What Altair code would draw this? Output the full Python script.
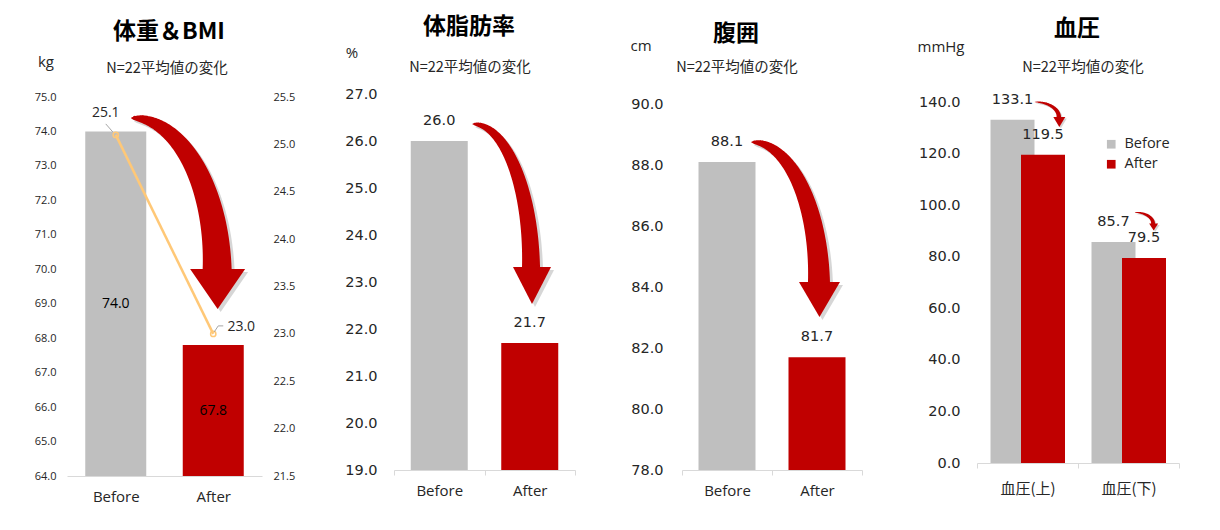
import json
import altair as alt
import numpy as np
import pandas as pd

# ---------------- data ----------------
phases = ["Before", "After"]
weight_kg = [74.0, 67.8]
bmi_values = [25.1, 23.0]
body_fat_pct = [26.0, 21.7]
waist_cm = [88.1, 81.7]
bp_categories = ["血圧(上)", "血圧(下)"]
bp_before = [133.1, 85.7]
bp_after = [119.5, 79.5]

kg_ticks = [64.0, 65.0, 66.0, 67.0, 68.0, 69.0, 70.0, 71.0, 72.0, 73.0, 74.0, 75.0]
bmi_ticks = [21.5, 22.0, 22.5, 23.0, 23.5, 24.0, 24.5, 25.0, 25.5]
fat_ticks = [19.0, 20.0, 21.0, 22.0, 23.0, 24.0, 25.0, 26.0, 27.0]
waist_ticks = [78.0, 80.0, 82.0, 84.0, 86.0, 88.0, 90.0]
bp_ticks = [0.0, 20.0, 40.0, 60.0, 80.0, 100.0, 120.0, 140.0]

titles = ["体重＆BMI", "体脂肪率", "腹囲", "血圧"]
subtitle_text = "N=22平均値の変化"
unit_labels = ["kg", "%", "cm", "mmHg"]

# ---------------- style ----------------
GRAY = "#BFBFBF"
RED = "#C00000"
ORANGE = "#FFC877"
AXIS_GRAY = "#D9D9D9"
TEXT = "#262626"
LATIN = "Open Sans, Noto Sans CJK JP"
CJK = "Noto Sans CJK JP"
NUM = "DejaVu Sans"


def lin(dom):
    return alt.Scale(domain=dom, nice=False, zero=False)


def band(dom):
    return alt.Scale(domain=dom, paddingInner=0, paddingOuter=0)


def ext_dom(ticks, plot_h, extra_px):
    """Axis range from the tick list, with a little empty room above the top tick."""
    span = ticks[-1] - ticks[0]
    return [ticks[0], ticks[-1] + extra_px * span / plot_h]


def xaxis(ticks, pad, font=LATIN):
    return alt.Axis(title=None, labelAngle=0, domainColor=AXIS_GRAY, domainWidth=1,
                    ticks=ticks, tickSize=5 if ticks else 0, tickColor=AXIS_GRAY,
                    tickBand="extent", labelFont=font, labelFontSize=15,
                    labelColor=TEXT, labelPadding=pad, grid=False)


def yaxis(values, pad, size, font, orient="left"):
    return alt.Axis(title=None, values=values, format=".1f", grid=False, domain=False,
                    ticks=False, tickSize=0, labelFont=font, labelFontSize=size,
                    labelColor=TEXT, labelPadding=pad, orient=orient,
                    labelOverlap=False, labelFlush=False)


def header(i, tx, ty, sx, sy, ux, uy):
    df = pd.DataFrame({"title": [titles[i]], "sub": [subtitle_text], "unit": [unit_labels[i]]})
    base = alt.Chart(df)
    return [
        base.mark_text(font=CJK, fontSize=23, fontWeight="bold", color="#000000",
                       align="center", baseline="middle").encode(
            text="title:N", x=alt.value(tx), y=alt.value(ty)),
        base.mark_text(font=CJK, fontSize=14.5, color=TEXT, align="center",
                       baseline="middle").encode(
            text="sub:N", x=alt.value(sx), y=alt.value(sy)),
        base.mark_text(font=LATIN, fontSize=15, color=TEXT, align="center",
                       baseline="middle").encode(
            text="unit:N", x=alt.value(ux), y=alt.value(uy)),
    ]


def arrow(xs, ys, xe, ye, xt, yt, shaft_w, head_w, head_h, xdom, ydom, shadow=3.0):
    """Decorative curved arrow (quarter ellipse shaft + triangular head)."""
    t = np.linspace(0, np.pi / 2, 48)
    frac = t / (np.pi / 2)
    df = pd.DataFrame({
        "ax": xs + (xe - xs) * np.sin(t),
        "ay": ye + (ys - ye) * np.cos(t),
        "w": shaft_w * (0.06 + 0.94 * frac ** 0.6),
        "i": np.arange(len(t)),
    })
    hd = pd.DataFrame({"hx": [(xe + xt) / 2], "hy": [(ye + yt) / 2]})
    a = head_h / head_w
    path = f"M-1,{-a:.3f}L1,{-a:.3f}L0,{a:.3f}Z"
    layers = []
    for col, op, off in [("#000000", 0.16, shadow), (RED, 1.0, 0.0)]:
        layers.append(alt.Chart(df).mark_trail(color=col, opacity=op, xOffset=off, yOffset=off).encode(
            x=alt.X("ax:Q", scale=lin(xdom), axis=None),
            y=alt.Y("ay:Q", scale=lin(ydom), axis=None),
            size=alt.Size("w:Q", scale=None, legend=None),
            order="i:Q"))
        layers.append(alt.Chart(hd).mark_point(shape=path, filled=True, size=head_w ** 2, color=col,
                                               opacity=op, strokeWidth=0, xOffset=off, yOffset=off).encode(
            x=alt.X("hx:Q", scale=lin(xdom), axis=None),
            y=alt.Y("hy:Q", scale=lin(ydom), axis=None)))
    return layers


def spacer(w, h):
    return alt.Chart(pd.DataFrame({"v": [0]})).mark_point(opacity=0).encode(
        x=alt.value(0), y=alt.value(0)).properties(width=w, height=h)


phase_color = alt.Color("phase:N", scale=alt.Scale(domain=phases, range=[GRAY, RED]), legend=None)
xb = alt.X("phase:N", sort=phases, scale=band(phases), axis=None)

# ---------------- panel 1: weight & BMI ----------------
H1, E1 = 379, 3
W1 = 195
kg_dom = ext_dom(kg_ticks, H1, E1)
bmi_dom = ext_dom(bmi_ticks, H1, E1)
df1 = pd.DataFrame({"phase": phases, "kg": weight_kg, "bmi": bmi_values})
pos_expr = f"indexof({json.dumps(phases)}, datum.phase) + 0.5"

bars1 = alt.Chart(df1).mark_bar(width=61).encode(
    x=alt.X("phase:N", sort=phases, scale=band(phases), axis=xaxis(False, 13)),
    y=alt.Y("kg:Q", scale=lin(kg_dom), axis=yaxis(kg_ticks, 11, 11, LATIN)),
    y2=alt.datum(kg_dom[0]),
    color=phase_color)
lab1 = alt.Chart(df1).transform_calculate(mid=f"(datum.kg + {kg_dom[0]}) / 2").mark_text(
    font=LATIN, fontSize=14, color="#000000").encode(
    x=xb, y=alt.Y("mid:Q", scale=lin(kg_dom), axis=None), text=alt.Text("kg:Q", format=".1f"))
line1 = alt.Chart(df1).mark_line(color=ORANGE, strokeWidth=2.5).encode(
    x=xb, y=alt.Y("bmi:Q", scale=lin(bmi_dom), axis=yaxis(bmi_ticks, 11, 11, LATIN, orient="right")))
pts1 = alt.Chart(df1).mark_point(filled=False, size=28, color=ORANGE, strokeWidth=1.5, opacity=1).encode(
    x=xb, y=alt.Y("bmi:Q", scale=lin(bmi_dom), axis=None))
bmi_lab_b = alt.Chart(df1).transform_filter(alt.datum.phase == phases[0]).mark_text(
    font=LATIN, fontSize=14, color=TEXT, dx=-10, dy=-22).encode(
    x=xb, y=alt.Y("bmi:Q", scale=lin(bmi_dom), axis=None), text=alt.Text("bmi:Q", format=".1f"))
bmi_lab_a = alt.Chart(df1).transform_filter(alt.datum.phase == phases[1]).mark_text(
    font=LATIN, fontSize=14, color=TEXT, dx=28, dy=-7).encode(
    x=xb, y=alt.Y("bmi:Q", scale=lin(bmi_dom), axis=None), text=alt.Text("bmi:Q", format=".1f"))


def leader(ph, x1o, y1o, x2o, y2o):
    return alt.Chart(df1).transform_filter(alt.datum.phase == ph).transform_calculate(
        pos=pos_expr).mark_rule(color="#A6A6A6", strokeWidth=1, xOffset=x1o, yOffset=y1o,
                                x2Offset=x2o, y2Offset=y2o).encode(
        x=alt.X("pos:Q", scale=lin([0, 2]), axis=None), x2=alt.X2("pos"),
        y=alt.Y("bmi:Q", scale=lin(bmi_dom), axis=None), y2=alt.Y2("bmi"))


leaders = [leader(phases[0], -10, -11, -3, -3),
           leader(phases[1], 1, -2, 5, -8),
           leader(phases[1], 5, -8, 10, -8)]

arrow1 = arrow(0.667, 74.39, 1.54, 70.0, 1.55, 68.85, 29, 55, 40, [0, 2], kg_dom)

panel1 = alt.layer(bars1, lab1, line1, pts1, *leaders, bmi_lab_b, bmi_lab_a, *arrow1,
                   *header(0, 102, -65 + E1, 100, -28 + E1, -21, -35 + E1)).resolve_scale(
    x="independent", y="independent").properties(width=W1, height=H1 + E1)

# ---------------- panel 2: body fat ----------------
H2, E2 = 376, 0
W2 = 181
fat_dom = ext_dom(fat_ticks, H2, E2)
df2 = pd.DataFrame({"phase": phases, "fat": body_fat_pct})
bars2 = alt.Chart(df2).mark_bar(width=57).encode(
    x=alt.X("phase:N", sort=phases, scale=band(phases), axis=xaxis(True, 8)),
    y=alt.Y("fat:Q", scale=lin(fat_dom), axis=yaxis(fat_ticks, 17, 14.5, NUM)),
    y2=alt.datum(fat_dom[0]),
    color=phase_color)
lab2 = alt.Chart(df2).mark_text(font=NUM, fontSize=14.5, color=TEXT, dy=-20).encode(
    x=xb, y=alt.Y("fat:Q", scale=lin(fat_dom), axis=None), text=alt.Text("fat:Q", format=".1f"))
arrow2 = arrow(0.873, 26.36, 1.514, 23.32, 1.536, 22.53, 18, 38, 37, [0, 2], fat_dom)
panel2 = alt.layer(bars2, lab2, *arrow2,
                   *header(1, 75, -67 + E2, 76, -26 + E2, -42, -41 + E2)).resolve_scale(
    x="independent", y="independent").properties(width=W2, height=H2 + E2)

# ---------------- panel 3: waist ----------------
H3, E3 = 366, 10
W3 = 180
waist_dom = ext_dom(waist_ticks, H3, E3)
df3 = pd.DataFrame({"phase": phases, "waist": waist_cm})
bars3 = alt.Chart(df3).mark_bar(width=57).encode(
    x=alt.X("phase:N", sort=phases, scale=band(phases), axis=xaxis(True, 8)),
    y=alt.Y("waist:Q", scale=lin(waist_dom), axis=yaxis(waist_ticks, 19, 14.5, NUM)),
    y2=alt.datum(waist_dom[0]),
    color=phase_color)
lab3 = alt.Chart(df3).mark_text(font=NUM, fontSize=14.5, color=TEXT, dy=-20).encode(
    x=xb, y=alt.Y("waist:Q", scale=lin(waist_dom), axis=None), text=alt.Text("waist:Q", format=".1f"))
arrow3 = arrow(0.778, 88.75, 1.522, 84.16, 1.533, 83.02, 22, 41, 35, [0, 2], waist_dom)
panel3 = alt.layer(bars3, lab3, *arrow3,
                   *header(2, 54, -70 + E3, 55, -36 + E3, -41, -58 + E3)).resolve_scale(
    x="independent", y="independent").properties(width=W3, height=H3 + E3)

# ---------------- panel 4: blood pressure ----------------
H4, E4 = 361, 8
W4 = 202
bp_dom = ext_dom(bp_ticks, H4, E4)
df4 = pd.DataFrame({"cat": bp_categories, "Before": bp_before, "After": bp_after})
base4 = alt.Chart(df4).transform_fold(phases, as_=["phase", "value"])
xc = alt.X("cat:N", sort=bp_categories, scale=band(bp_categories), axis=None)
bp_color = alt.Color("phase:N", scale=alt.Scale(domain=phases, range=[GRAY, RED]),
                     legend=alt.Legend(title=None, orient="none", legendX=127, legendY=35 + E4,
                                       symbolType="square", symbolSize=75, symbolStrokeWidth=0,
                                       labelFont=LATIN, labelFontSize=14.5, labelColor=TEXT,
                                       labelOffset=6, rowPadding=5))
bars4b = base4.transform_filter(alt.datum.phase == phases[0]).mark_bar(width=44, xOffset=-15).encode(
    x=alt.X("cat:N", sort=bp_categories, scale=band(bp_categories), axis=xaxis(True, 13, CJK)),
    y=alt.Y("value:Q", scale=lin(bp_dom), axis=yaxis(bp_ticks, 17, 14.5, NUM)),
    y2=alt.datum(bp_dom[0]),
    color=bp_color)
bars4a = base4.transform_filter(alt.datum.phase == phases[1]).mark_bar(width=44, xOffset=15.5).encode(
    x=xc, y=alt.Y("value:Q", scale=lin(bp_dom), axis=None), y2=alt.datum(bp_dom[0]), color=bp_color)
lab4b = base4.transform_filter(alt.datum.phase == phases[0]).mark_text(
    font=NUM, fontSize=14.5, color=TEXT, dx=-15, dy=-20).encode(
    x=xc, y=alt.Y("value:Q", scale=lin(bp_dom), axis=None), text=alt.Text("value:Q", format=".1f"))
lab4a = base4.transform_filter(alt.datum.phase == phases[1]).mark_text(
    font=NUM, fontSize=14.5, color=TEXT, dx=15.5, dy=-20).encode(
    x=xc, y=alt.Y("value:Q", scale=lin(bp_dom), axis=None), text=alt.Text("value:Q", format=".1f"))
arrow4a = arrow(0.574, 140.0, 0.81, 134.2, 0.82, 130.3, 4.5, 12, 10, [0, 2], bp_dom, shadow=1.5)
arrow4b = arrow(1.564, 97.2, 1.743, 92.9, 1.755, 90.2, 4.0, 9, 7, [0, 2], bp_dom, shadow=1.5)
panel4 = alt.layer(bars4b, bars4a, lab4b, lab4a, *arrow4a, *arrow4b,
                   *header(3, 100, -73 + E4, 106, -34 + E4, -36, -55 + E4)).resolve_scale(
    x="independent", y="independent").properties(width=W4, height=H4 + E4)

# ---------------- layout ----------------
chart = alt.hconcat(panel1, spacer(132, 1), panel2, spacer(107, 1), panel3, spacer(115, 1), panel4,
                    spacing=0, bounds="flush").resolve_scale(color="independent").resolve_legend(
    color="independent").properties(
    padding={"left": 26, "top": 8, "right": 5, "bottom": 5},
    background="white").configure_view(stroke=None)

chart.save("out.html", embed_options={"renderer": "svg", "actions": False})
